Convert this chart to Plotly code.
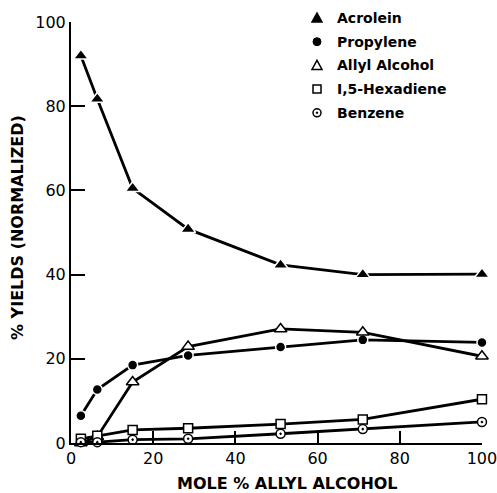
import plotly.graph_objects as go

mole_pct = [2.4, 6.4, 15, 28.5, 51, 71, 100]
acrolein = [92.0, 81.7, 60.5, 50.8, 42.3, 40.0, 40.1]
propylene = [6.5, 12.7, 18.5, 20.8, 22.8, 24.5, 23.9]
allyl_alcohol = [0.0, 1.5, 14.5, 22.9, 27.1, 26.3, 20.6]
hexadiene = [1.0, 1.7, 3.1, 3.5, 4.5, 5.6, 10.4]
benzene = [0.2, 0.2, 0.8, 1.0, 2.2, 3.3, 5.0]

x_ticks = [0, 20, 40, 60, 80, 100]
y_ticks = [0, 20, 40, 60, 80, 100]

series = [
    ("Acrolein", acrolein, "triangle-up", "black", "white", 1.5, 13),
    ("Propylene", propylene, "circle", "black", "white", 1.5, 10),
    ("Allyl Alcohol", allyl_alcohol, "triangle-up", "white", "black", 1.5, 11),
    ("I,5-Hexadiene", hexadiene, "square", "white", "black", 1.5, 9),
    ("Benzene", benzene, "circle-dot", "white", "black", 1.5, 9),
]

W, H = 497, 493
L, R, T, B = 71, 15, 22, 50
PW, PH = W - L - R, H - T - B
font = "DejaVu Sans"


def px(xp):
    return (xp - L) / PW


def py(yp):
    return (H - B - yp) / PH


fig = go.Figure()
for name, vals, sym, fill, edge, ew, size in series:
    fig.add_trace(go.Scatter(
        x=mole_pct, y=vals, name=name, mode="lines+markers",
        line=dict(color="black", width=2.8),
        marker=dict(symbol=sym, color=fill, size=size,
                    line=dict(color=edge, width=ew)),
        cliponaxis=False, showlegend=False,
    ))

# manual legend: pixel-sized shapes anchored in paper coordinates + text
leg_sym_x, leg_text_x, leg_top, leg_step = 317, 335, 18, 23.7
tri = "M-5,-4 L5,-4 L0,5 Z"
for i, (name, vals, sym, fill, edge, ew, size) in enumerate(series):
    row = leg_top + i * leg_step
    ax, ay = px(leg_sym_x), py(row)
    common = dict(xref="paper", yref="paper", xsizemode="pixel", ysizemode="pixel",
                  xanchor=ax, yanchor=ay, layer="above")
    if sym == "triangle-up":
        fig.add_shape(type="path", path=tri, fillcolor=fill,
                      line=dict(color="black", width=1.5), **common)
    elif sym == "circle":
        fig.add_shape(type="circle", x0=-4, x1=4, y0=-4, y1=4, fillcolor="black",
                      line=dict(color="black", width=1), **common)
    elif sym == "square":
        fig.add_shape(type="rect", x0=-4, x1=4, y0=-4, y1=4, fillcolor="white",
                      line=dict(color="black", width=1.5), **common)
    else:
        fig.add_shape(type="circle", x0=-4, x1=4, y0=-4, y1=4, fillcolor="white",
                      line=dict(color="black", width=1.5), **common)
        fig.add_shape(type="circle", x0=-1, x1=1, y0=-1, y1=1, fillcolor="black",
                      line=dict(color="black", width=0.5), **common)
    fig.add_annotation(x=px(leg_text_x), y=ay, xref="paper", yref="paper", text=name,
                       showarrow=False, xanchor="left", yanchor="middle",
                       font=dict(family=font, size=14, weight="bold"))

# axis titles
fig.add_annotation(x=px(287), y=py(483), xref="paper", yref="paper",
                   text="MOLE % ALLYL ALCOHOL", showarrow=False,
                   xanchor="center", yanchor="middle",
                   font=dict(family=font, size=16, weight="bold"))
fig.add_annotation(x=px(18), y=py(228), xref="paper", yref="paper",
                   text="% YIELDS (NORMALIZED)", showarrow=False,
                   xanchor="center", yanchor="middle", textangle=-90,
                   font=dict(family=font, size=16, weight="bold"))

fig.update_layout(
    width=W, height=H,
    margin=dict(l=L, r=R, t=T, b=B, autoexpand=False),
    plot_bgcolor="white", paper_bgcolor="white",
    font=dict(family=font, color="black"),
    showlegend=False,
    xaxis=dict(
        range=[0, 100.01], tickvals=x_ticks, showgrid=False, zeroline=False,
        showline=True, linecolor="black", linewidth=2, automargin=False,
        ticks="inside", ticklen=12, tickwidth=1.5, tickcolor="black",
        tickfont=dict(family=font, size=16), ticklabeloverflow="allow",
    ),
    yaxis=dict(
        range=[0, 100.01], tickvals=y_ticks, showgrid=False, zeroline=False,
        showline=True, linecolor="black", linewidth=2, automargin=False,
        ticks="inside", ticklen=14, tickwidth=1.5, tickcolor="black",
        tickfont=dict(family=font, size=16), ticklabeloverflow="allow",
    ),
)
fig.write_html("out.html")
